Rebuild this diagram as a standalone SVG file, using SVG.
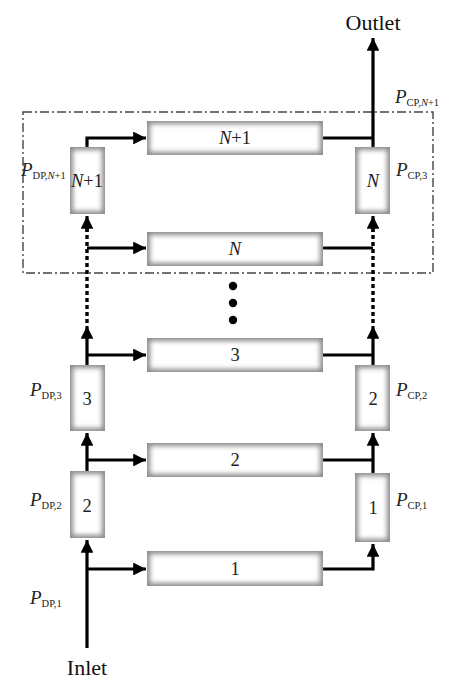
<svg xmlns="http://www.w3.org/2000/svg" width="473" height="686" viewBox="0 0 473 686">
<style>
.edge{fill:#8a8a8a}
.inner{fill:#fff;filter:url(#soft)}
.ln{stroke:#000;stroke-width:3.2;fill:none}
.dot{stroke:#000;stroke-width:3.4;fill:none;stroke-dasharray:4 3}
.t{font-family:"Liberation Serif","Times New Roman",serif;fill:#222}
.num{font-size:18.5px;text-anchor:middle}
.big{font-size:22px;text-anchor:middle;fill:#111}
.P{font-size:19px;font-style:italic}
.sub{font-size:10.5px;font-style:normal}
.i{font-style:italic}
</style>
<defs>
<filter id="soft" x="-20%" y="-20%" width="140%" height="140%"><feGaussianBlur stdDeviation="2.4"/></filter>
<marker id="ah" viewBox="0 0 10 10" refX="10" refY="5" markerWidth="5.2" markerHeight="4" markerUnits="strokeWidth" orient="auto">
<path d="M0,0 L10,5 L0,10 z" fill="#000"/>
</marker>
</defs>
<rect width="473" height="686" fill="#fff"/>
<rect x="23" y="112" width="410" height="161" fill="none" stroke="#444" stroke-width="1.4" stroke-dasharray="9 3 2 3"/>

<g id="connectors">
<path class="ln" d="M87,648 V540" marker-end="url(#ah)"/>
<path class="ln" d="M87,569 H146" marker-end="url(#ah)"/>
<path class="ln" d="M323,569 H373 V544" marker-end="url(#ah)"/>
<path class="ln" d="M87,471 V433" marker-end="url(#ah)"/>
<path class="ln" d="M87,460 H146" marker-end="url(#ah)"/>
<path class="ln" d="M373,473 V433" marker-end="url(#ah)"/>
<path class="ln" d="M323,460 H373"/>
<path class="ln" d="M87,365 V326" marker-end="url(#ah)"/>
<path class="ln" d="M87,355 H146" marker-end="url(#ah)"/>
<path class="ln" d="M373,365 V326" marker-end="url(#ah)"/>
<path class="ln" d="M323,355 H373"/>
<path class="dot" d="M87,323 V228"/>
<path class="dot" d="M373,323 V228"/>
<path class="ln" d="M87,232 V216" marker-end="url(#ah)"/>
<path class="ln" d="M373,232 V216" marker-end="url(#ah)"/>
<path class="ln" d="M87,248 H146" marker-end="url(#ah)"/>
<path class="ln" d="M323,248 H373"/>
<path class="ln" d="M87,147 V138 H146" marker-end="url(#ah)"/>
<path class="ln" d="M323,138 H373"/>
<path class="ln" d="M373,147 V38" marker-end="url(#ah)"/>
</g>

<g id="ellipsis" fill="#000">
<circle cx="233" cy="286" r="4.2"/>
<circle cx="233" cy="303" r="4.2"/>
<circle cx="233" cy="320" r="4.2"/>
</g>

<g id="ch-N1">
<rect class="edge" x="147" y="121" width="176" height="34"/>
<rect class="inner" x="150" y="124" width="170" height="28"/>
<text class="t num" x="235" y="144"><tspan class="i">N</tspan>+1</text>
</g>
<g id="ch-N">
<rect class="edge" x="147" y="232" width="176" height="34"/>
<rect class="inner" x="150" y="235" width="170" height="28"/>
<text class="t num i" x="235" y="255">N</text>
</g>
<g id="ch-3">
<rect class="edge" x="147" y="338" width="176" height="34"/>
<rect class="inner" x="150" y="341" width="170" height="28"/>
<text class="t num" x="235" y="361">3</text>
</g>
<g id="ch-2">
<rect class="edge" x="147" y="443" width="176" height="34"/>
<rect class="inner" x="150" y="446" width="170" height="28"/>
<text class="t num" x="235" y="466">2</text>
</g>
<g id="ch-1">
<rect class="edge" x="147" y="551" width="176" height="35"/>
<rect class="inner" x="150" y="554" width="170" height="29"/>
<text class="t num" x="235" y="575">1</text>
</g>

<g id="dp-N1">
<rect class="edge" x="70" y="147" width="35" height="67"/>
<rect class="inner" x="73" y="150" width="29" height="61"/>
<text class="t num" x="87" y="187"><tspan class="i">N</tspan>+1</text>
</g>
<g id="dp-3">
<rect class="edge" x="70" y="365" width="35" height="66"/>
<rect class="inner" x="73" y="368" width="29" height="60"/>
<text class="t num" x="87" y="405">3</text>
</g>
<g id="dp-2">
<rect class="edge" x="70" y="471" width="35" height="67"/>
<rect class="inner" x="73" y="474" width="29" height="61"/>
<text class="t num" x="87" y="512">2</text>
</g>
<g id="cp-N">
<rect class="edge" x="355" y="147" width="35" height="67"/>
<rect class="inner" x="358" y="150" width="29" height="61"/>
<text class="t num i" x="373" y="187">N</text>
</g>
<g id="cp-2">
<rect class="edge" x="355" y="365" width="35" height="66"/>
<rect class="inner" x="358" y="368" width="29" height="60"/>
<text class="t num" x="373" y="405">2</text>
</g>
<g id="cp-1">
<rect class="edge" x="355" y="473" width="35" height="69"/>
<rect class="inner" x="358" y="476" width="29" height="63"/>
<text class="t num" x="373" y="514">1</text>
</g>

<g id="labels">
<text class="t big" x="373" y="30">Outlet</text>
<text class="t big" x="87" y="675">Inlet</text>
<text class="t P" x="395" y="103">P<tspan class="sub" dy="3">CP,</tspan><tspan class="sub i">N</tspan><tspan class="sub">+1</tspan></text>
<text class="t P" x="21" y="176">P<tspan class="sub" dy="3">DP,</tspan><tspan class="sub i">N</tspan><tspan class="sub">+1</tspan></text>
<text class="t P" x="396" y="176">P<tspan class="sub" dy="3">CP,3</tspan></text>
<text class="t P" x="30" y="396">P<tspan class="sub" dy="3">DP,3</tspan></text>
<text class="t P" x="396" y="396">P<tspan class="sub" dy="3">CP,2</tspan></text>
<text class="t P" x="30" y="506">P<tspan class="sub" dy="3">DP,2</tspan></text>
<text class="t P" x="396" y="506">P<tspan class="sub" dy="3">CP,1</tspan></text>
<text class="t P" x="30" y="604">P<tspan class="sub" dy="3">DP,1</tspan></text>
</g>
</svg>
